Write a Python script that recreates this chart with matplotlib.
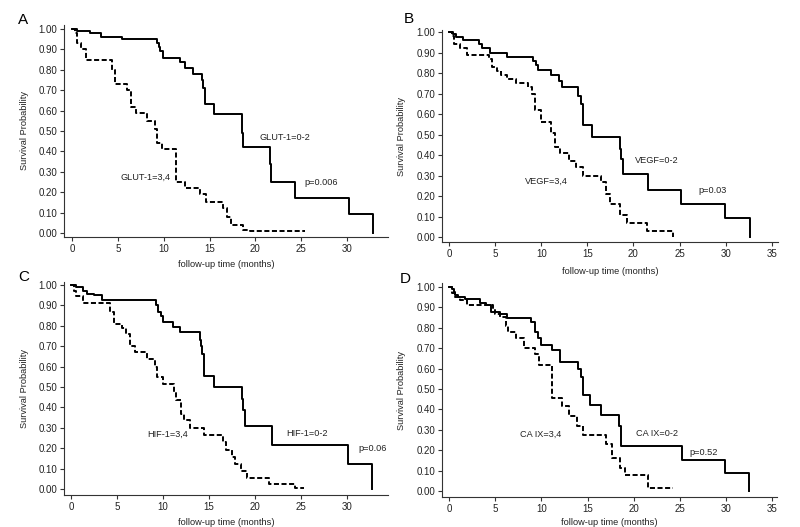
import matplotlib.pyplot as plt
import matplotlib

matplotlib.rcParams['font.family'] = ['Liberation Sans', 'DejaVu Sans']

# Kaplan-Meier curves (time in months, survival probability)
# A: GLUT-1
glut_low_t = [0, 0.5, 2.0, 3.2, 5.4, 9.25, 9.45, 9.65, 9.9, 11.8, 12.3, 13.25, 14.15, 14.3, 14.5, 15.5, 18.55, 18.7, 21.55, 21.7, 24.35, 30.2, 32.8]
glut_low_s = [1.00, 0.99, 0.98, 0.96, 0.95, 0.93, 0.91, 0.89, 0.86, 0.84, 0.81, 0.78, 0.75, 0.71, 0.63, 0.585, 0.49, 0.42, 0.34, 0.25, 0.17, 0.095, 0.0]
glut_high_t = [0, 0.3, 0.5, 1.0, 1.5, 4.4, 4.7, 6.0, 6.4, 7.0, 8.2, 9.0, 9.3, 9.8, 11.3, 12.3, 14.0, 14.6, 16.5, 16.9, 17.3, 17.7, 18.7, 19.4, 25.4]
glut_high_s = [1.00, 0.98, 0.93, 0.90, 0.85, 0.80, 0.73, 0.70, 0.62, 0.59, 0.55, 0.51, 0.44, 0.41, 0.25, 0.22, 0.19, 0.15, 0.12, 0.08, 0.04, 0.04, 0.016, 0.007, 0.007]

# B: VEGF
vegf_low_t = [0, 0.4, 0.8, 1.5, 3.3, 3.6, 4.4, 6.3, 9.15, 9.4, 9.7, 11.1, 11.9, 12.3, 14.0, 14.3, 14.5, 15.5, 18.5, 18.7, 18.85, 21.6, 25.2, 29.9, 32.65]
vegf_low_s = [1.00, 0.99, 0.975, 0.96, 0.94, 0.92, 0.90, 0.88, 0.86, 0.84, 0.815, 0.79, 0.76, 0.73, 0.69, 0.65, 0.545, 0.49, 0.43, 0.38, 0.31, 0.23, 0.16, 0.095, 0.0]
vegf_high_t = [0, 0.3, 0.5, 1.2, 1.9, 4.3, 4.7, 5.2, 5.6, 6.3, 7.3, 8.6, 9.0, 9.3, 10.0, 11.1, 11.5, 12.0, 13.0, 13.8, 14.5, 16.5, 17.0, 17.5, 18.5, 19.3, 21.5, 24.3]
vegf_high_s = [1.00, 0.98, 0.94, 0.92, 0.89, 0.87, 0.83, 0.81, 0.79, 0.77, 0.75, 0.73, 0.70, 0.62, 0.56, 0.51, 0.44, 0.41, 0.37, 0.34, 0.30, 0.27, 0.21, 0.16, 0.11, 0.07, 0.03, 0.0]

# C: HIF-1
hif_low_t = [0, 0.5, 1.3, 1.7, 2.5, 3.4, 9.25, 9.5, 9.75, 10.0, 11.1, 11.9, 14.0, 14.15, 14.3, 14.5, 15.6, 18.6, 18.75, 18.9, 21.9, 30.2, 32.8]
hif_low_s = [1.00, 0.99, 0.97, 0.955, 0.95, 0.925, 0.90, 0.87, 0.85, 0.82, 0.795, 0.77, 0.73, 0.70, 0.66, 0.555, 0.50, 0.44, 0.39, 0.31, 0.215, 0.125, 0.0]
hif_high_t = [0, 0.3, 0.5, 1.3, 4.3, 4.7, 5.5, 6.0, 6.4, 7.0, 8.3, 9.1, 9.4, 10.0, 11.2, 11.4, 12.0, 12.3, 13.0, 14.5, 16.5, 16.9, 17.5, 17.9, 18.5, 19.2, 21.6, 24.4, 25.4]
hif_high_s = [1.00, 0.97, 0.945, 0.91, 0.87, 0.81, 0.79, 0.76, 0.70, 0.67, 0.64, 0.60, 0.55, 0.515, 0.47, 0.435, 0.37, 0.34, 0.30, 0.265, 0.23, 0.19, 0.155, 0.125, 0.09, 0.055, 0.025, 0.005, 0.005]

# D: CA IX
caix_low_t = [0, 0.3, 0.5, 0.7, 1.0, 1.7, 3.3, 4.0, 4.5, 5.5, 6.3, 8.9, 9.3, 9.6, 10.0, 11.1, 12.0, 14.0, 14.3, 14.5, 15.3, 16.4, 18.4, 18.6, 25.2, 29.9, 32.5]
caix_low_s = [1.00, 0.99, 0.975, 0.96, 0.95, 0.94, 0.92, 0.91, 0.88, 0.87, 0.85, 0.83, 0.78, 0.75, 0.715, 0.69, 0.635, 0.60, 0.56, 0.47, 0.42, 0.375, 0.32, 0.22, 0.15, 0.09, 0.0]
caix_high_t = [0, 0.3, 0.6, 1.2, 2.0, 4.8, 5.0, 5.5, 6.2, 6.4, 7.2, 8.1, 9.3, 9.7, 11.2, 12.2, 13.0, 13.8, 14.5, 17.0, 17.6, 18.5, 19.0, 21.5, 24.2]
caix_high_s = [1.00, 0.97, 0.95, 0.935, 0.91, 0.89, 0.87, 0.855, 0.81, 0.78, 0.75, 0.70, 0.67, 0.62, 0.455, 0.415, 0.37, 0.32, 0.275, 0.23, 0.16, 0.115, 0.08, 0.015, 0.015]

panel_letters = ['A', 'B', 'C', 'D']
low_labels = ['GLUT-1=0-2', 'VEGF=0-2', 'HIF-1=0-2', 'CA IX=0-2']
high_labels = ['GLUT-1=3,4', 'VEGF=3,4', 'HIF-1=3,4', 'CA IX=3,4']
p_values = ['p=0.006', 'p=0.03', 'p=0.06', 'p=0.52']

curves = [
    (glut_low_t, glut_low_s, glut_high_t, glut_high_s),
    (vegf_low_t, vegf_low_s, vegf_high_t, vegf_high_s),
    (hif_low_t, hif_low_s, hif_high_t, hif_high_s),
    (caix_low_t, caix_low_s, caix_high_t, caix_high_s),
]

W, H = 800, 527
# axes boxes in pixels: left, top, right, bottom
boxes = [(64, 25, 388, 237), (442, 30, 778, 242), (64, 282, 388, 495), (442, 283, 777, 497)]
xlims = [(-0.87, 34.46), (-0.76, 35.68), (-0.76, 34.5), (-0.76, 35.5)]
ylims = [(-0.02, 1.02), (-0.024, 1.01), (-0.029, 1.015), (-0.029, 1.02)]
xmax_tick = [30, 35, 30, 35]
# annotation positions in data coords
low_pos = [(20.5, 0.47), (20.2, 0.375), (23.4, 0.27), (20.2, 0.28)]
high_pos = [(5.3, 0.275), (8.2, 0.27), (8.3, 0.27), (7.7, 0.28)]
p_pos = [(25.3, 0.245), (27.0, 0.228), (31.3, 0.20), (26.0, 0.19)]
letter_pos = [(23, 20), (409, 19), (24, 277), (405, 279)]
xlabel_y = [-0.11, -0.118, -0.108, -0.098]

fig = plt.figure(figsize=(W / 100, H / 100), dpi=100)

for i in range(4):
    l, t, r, b = boxes[i]
    ax = fig.add_axes([l / W, 1 - b / H, (r - l) / W, (b - t) / H])
    lt, ls, ht, hs = curves[i]
    ax.step(lt, ls, where='post', color='black', lw=1.4)
    ax.step(ht, hs, where='post', color='black', lw=1.4, linestyle=(0, (2.6, 1.3)))
    ax.set_xlim(*xlims[i])
    ax.set_ylim(*ylims[i])
    ax.set_xticks(range(0, xmax_tick[i] + 1, 5))
    ax.set_yticks([k / 10 for k in range(11)])
    ax.set_yticklabels(['%.2f' % (k / 10) for k in range(11)])
    ax.tick_params(labelsize=7, length=3, width=0.8, color='#333333', pad=2, labelcolor='#222222')
    for s in ['top', 'right']:
        ax.spines[s].set_visible(False)
    for s in ['left', 'bottom']:
        ax.spines[s].set_color('#333333')
        ax.spines[s].set_linewidth(0.8)
    ax.set_ylabel('Survival Probability', fontsize=6.7, color='#222222')
    ax.yaxis.set_label_coords(-0.108, 0.5)
    ax.set_xlabel('follow-up time (months)', fontsize=6.7, color='#222222')
    ax.xaxis.set_label_coords(0.5, xlabel_y[i])
    ax.text(low_pos[i][0], low_pos[i][1], low_labels[i], fontsize=6.6, va='center', color='#222222')
    ax.text(high_pos[i][0], high_pos[i][1], high_labels[i], fontsize=6.6, va='center', color='#222222')
    ax.text(p_pos[i][0], p_pos[i][1], p_values[i], fontsize=6.6, va='center', color='#222222')
    fig.text(letter_pos[i][0] / W, 1 - letter_pos[i][1] / H, panel_letters[i], fontsize=11,
             ha='center', va='center')

fig.savefig('out.png', dpi=100)
